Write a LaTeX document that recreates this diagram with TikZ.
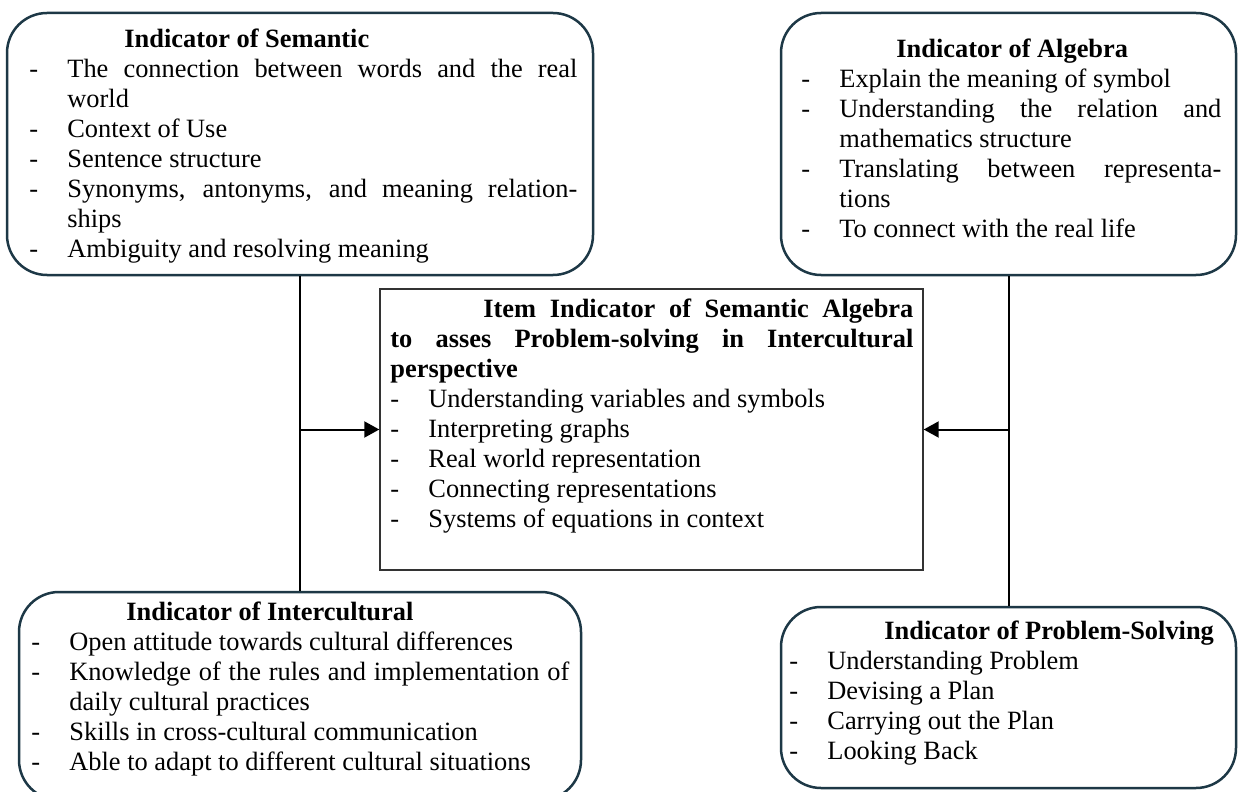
\documentclass[tikz,border=0pt]{standalone}
\usepackage{fontspec}
\setmainfont{Liberation Serif}
\usetikzlibrary{arrows.meta}
\definecolor{boxnavy}{HTML}{1D3846}
\definecolor{cboxline}{HTML}{333333}
\newlength\hangw
\setlength\hangw{19pt}
\newcommand\itm[1]{\par\noindent\hangindent=\hangw\hangafter=1\makebox[\hangw][l]{-}#1}
\newcommand\ttl[1]{\noindent\hspace*{47.5pt}\textbf{#1}}
\newcommand\blk[2]{\parbox[t]{#1}{\tolerance=10000\hyphenpenalty=10000\emergencystretch=20pt\parskip=0pt #2}}
\begin{document}
\begin{tikzpicture}[x=0.5pt,y=-0.5pt,
  rbox/.style={draw=boxnavy,line width=1.25pt,rounded corners=20pt,rectangle,inner sep=0pt},
  cbx/.style={draw=cboxline,line width=0.7pt,rectangle,inner sep=0pt},
  txt/.style={inner sep=0pt,anchor=base west,font=\fontsize{13.2pt}{15pt}\selectfont},
  conn/.style={line width=1pt,black},
  arr/.style={conn,-{Triangle[length=7.5pt,width=8pt]}}]
\fill[white] (0,0) rectangle (1238,792);
\useasboundingbox (0,0) rectangle (1238,792);

% boxes
\node[rbox,minimum width=293pt,minimum height=131pt] (TL) at (300,144) {};
\node[rbox,minimum width=227.5pt,minimum height=131pt] (TR) at (1008.5,144) {};
\node[cbx,minimum width=271.5pt,minimum height=140.5pt] (C) at (651.5,429.5) {};
\node[rbox,minimum width=281pt,minimum height=104pt] (BL) at (300,696) {};
\node[rbox,minimum width=227.5pt,minimum height=90.5pt] (BR) at (1008.5,697.5) {};

% texts
\node[txt] (TLt) at (29,48) {\blk{274pt}{%
\ttl{Indicator of Semantic}
\itm{The connection between words and the real\linebreak world}
\itm{Context of Use}
\itm{Sentence structure}
\itm{Synonyms, antonyms, and meaning relation-\linebreak ships}
\itm{Ambiguity and resolving meaning}}};

\node[txt] (TRt) at (801,58) {\blk{210pt}{%
\ttl{Indicator of Algebra}
\itm{Explain the meaning of symbol}
\itm{Understanding the relation and\linebreak mathematics structure}
\itm{Translating between representa-\linebreak tions}
\itm{To connect with the real life}}};

\node[txt] (Ct) at (390,317) {\blk{261.5pt}{%
\noindent\hspace*{46.5pt}\textbf{Item Indicator of Semantic Algebra\linebreak to asses Problem-solving in Intercultural\linebreak perspective}
\itm{Understanding variables and symbols}
\itm{Interpreting graphs}
\itm{Real world representation}
\itm{Connecting representations}
\itm{Systems of equations in context}}};

\node[txt] (BLt) at (31,620) {\blk{269pt}{%
\ttl{Indicator of Intercultural}
\itm{Open attitude towards cultural differences}
\itm{Knowledge of the rules and implementation of\linebreak daily cultural practices}
\itm{Skills in cross-cultural communication}
\itm{Able to adapt to different cultural situations}}};

\node[txt] (BRt) at (789,639) {\blk{216pt}{%
\ttl{Indicator of Problem-Solving}
\itm{Understanding Problem}
\itm{Devising a Plan}
\itm{Carrying out the Plan}
\itm{Looking Back}}};

% connectors
\draw[conn] (TL.south) -- (BL.north);
\draw[conn] (TR.south) -- (BR.north);
\draw[arr] (TL.south |- C.west) -- (C.west);
\draw[arr] (TR.south |- C.east) -- (C.east);
\end{tikzpicture}
\end{document}
